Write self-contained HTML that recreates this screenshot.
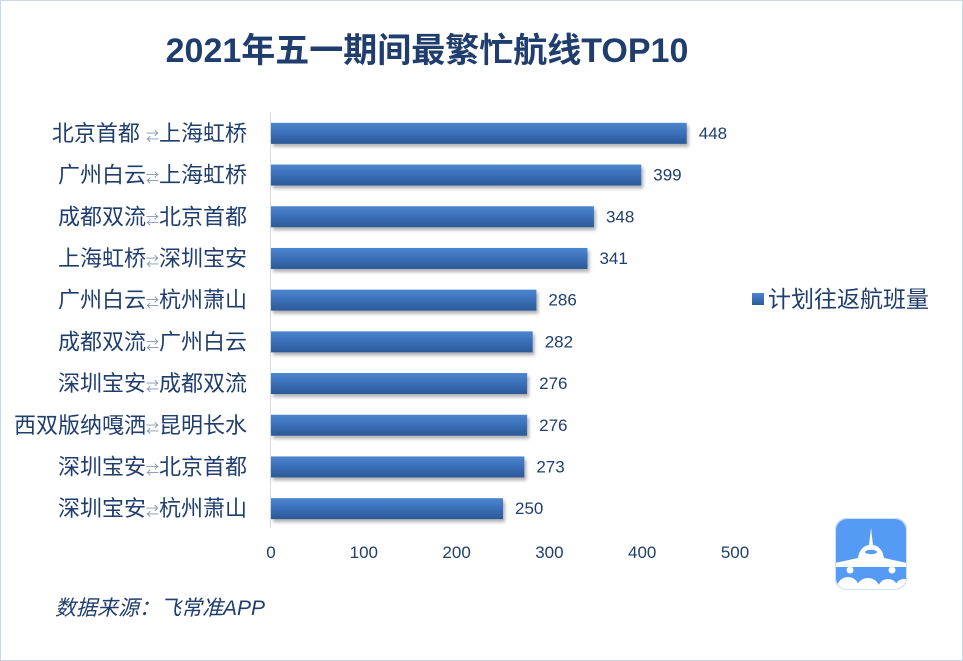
<!DOCTYPE html>
<html><head><meta charset="utf-8">
<style>
body{margin:0;background:#fff;}
svg{display:block;font-family:"Liberation Sans","Noto Sans CJK SC",sans-serif;}
</style></head><body>
<svg id="chart" width="963" height="661" viewBox="0 0 963 661">
<defs>
<linearGradient id="bg" x1="0" y1="0" x2="0" y2="1">
<stop offset="0" stop-color="#4c85cf"/><stop offset="0.5" stop-color="#3a6fb8"/><stop offset="1" stop-color="#2b5996"/>
</linearGradient>
<filter id="sh" x="-5%" y="-30%" width="110%" height="180%"><feDropShadow dx="2" dy="3" stdDeviation="1.5" flood-color="#000" flood-opacity="0.3"/></filter>
<clipPath id="logoclip"><rect x="835" y="518" width="72" height="72" rx="12"/></clipPath>
</defs>
<rect x="0.5" y="0.5" width="962" height="660" fill="#fff" stroke="#c9d6e6"/>
<text x="427" y="62" text-anchor="middle" font-size="34" font-weight="bold" fill="#1f3e6e">2021年五一期间最繁忙航线TOP10</text>
<line x1="270.5" y1="112" x2="270.5" y2="528" stroke="#d9d9d9"/>
<g id="bars"></g>
<g id="xticks"></g>
<rect x="752" y="293" width="12" height="12" fill="url(#bg)"/>
<text x="768" y="307" font-size="23" fill="#1f3e6e">计划往返航班量</text>
<text x="55" y="615" font-size="21" font-style="italic" fill="#1f3e6e">数据来源：飞常准APP</text>
<g clip-path="url(#logoclip)">
<rect x="835" y="518" width="72" height="72" fill="#559af5"/>
<path d="M871 528 L873 545 C880 546 883 552 884 558 L907 563 L907 567 L835 567 L835 563 L858 558 C859 552 862 546 869 545 Z" fill="#fff"/>
<ellipse cx="871" cy="552" rx="6" ry="2.2" fill="#559af5"/>
<circle cx="850" cy="570" r="3.5" fill="#fff"/><circle cx="892" cy="570" r="3.5" fill="#fff"/>
<circle cx="848" cy="588" r="11" fill="#fff"/>
<circle cx="868" cy="590" r="12" fill="#fff"/>
<circle cx="888" cy="589" r="10" fill="#fff"/>
<circle cx="904" cy="588" r="9" fill="#fff"/>
<rect x="835" y="585" width="72" height="6" fill="#fff"/>
</g>
<rect x="835.5" y="518.5" width="71" height="71" rx="12" fill="none" stroke="#cfe0f7"/>
</svg>
<script>
const routesFrom=["北京首都 ","广州白云","成都双流","上海虹桥","广州白云","成都双流","深圳宝安","西双版纳嘎洒","深圳宝安","深圳宝安"];
const routesTo=["上海虹桥","上海虹桥","北京首都","深圳宝安","杭州萧山","广州白云","成都双流","昆明长水","北京首都","杭州萧山"];
const values=[448,399,348,341,286,282,276,276,273,250];
const tickLabels=[0,100,200,300,400,500];
const NS="http://www.w3.org/2000/svg";
const x0=271,pxPer=(735-271)/500;
const xs=v=>x0+v*pxPer;
const yTop=112,band=41.7,barH=21;
const yc=i=>yTop+band*(i+0.5);
const gb=document.getElementById('bars'),gt=document.getElementById('xticks');
function mk(tag,at,txt){const e=document.createElementNS(NS,tag);for(const k in at)e.setAttribute(k,at[k]);if(txt!==undefined)e.textContent=txt;return e;}
values.forEach((v,i)=>{
  const r=mk('rect',{x:x0,y:yc(i)-barH/2+0.5,width:xs(v)-x0,height:barH,fill:'url(#bg)',filter:'url(#sh)'});
  
  
  gb.appendChild(r);
  const t=mk('text',{x:xs(v)+12,y:yc(i)+6,'font-size':17,fill:'#1f3e6e'},v);
  
  
  gb.appendChild(t);
  const l=mk('text',{x:247,y:yc(i)+8,'font-size':22,fill:'#1f3e6e','text-anchor':'end'});
  
  
  l.appendChild(mk('tspan',{},routesFrom[i]));
  l.appendChild(mk('tspan',{'font-size':13,fill:'#8496b4'},'⇄'));
  l.appendChild(mk('tspan',{},routesTo[i]));
  gb.appendChild(l);
});
tickLabels.forEach(v=>{
  const t=mk('text',{x:xs(v),y:558,'font-size':17,fill:'#1f3e6e','text-anchor':'middle'},v);
  
  
  gt.appendChild(t);
});
</script>
</body></html>
